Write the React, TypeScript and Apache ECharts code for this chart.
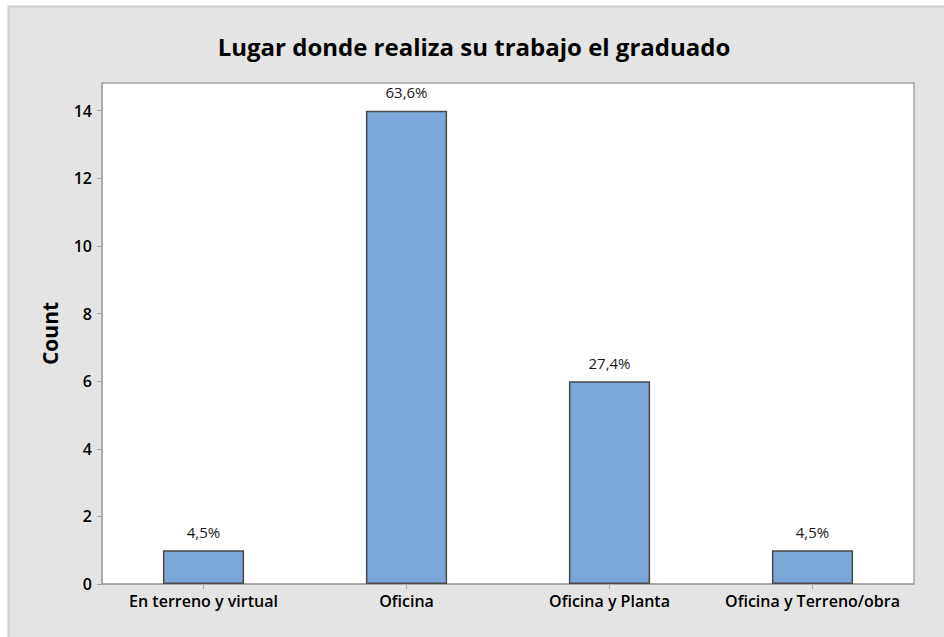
import React, { useEffect, useRef } from "react";
import * as echarts from "echarts";

const categories = ["En terreno y virtual", "Oficina", "Oficina y Planta", "Oficina y Terreno/obra"];
const counts = [1, 14, 6, 1];
const percentLabels = ["4,5%", "63,6%", "27,4%", "4,5%"];
const yTicks = [0, 2, 4, 6, 8, 10, 12, 14];

const FONT = "'Open Sans', 'Noto Sans', sans-serif";

export default function App() {
  const ref = useRef<HTMLDivElement>(null);
  useEffect(() => {
    document.body.style.margin = "0";
    const chart = echarts.init(ref.current!, null, { renderer: "svg" });
    chart.setOption({
      animation: false,
      backgroundColor: "#ffffff",
      graphic: [
        {
          type: "rect",
          z: -10,
          silent: true,
          shape: { x: 8.5, y: 6.5, width: 940, height: 640 },
          style: { fill: "#e4e4e4", stroke: "#cfcfcf", lineWidth: 2 },
        },
        {
          type: "rect",
          z: -5,
          silent: true,
          shape: { x: 102, y: 83, width: 812, height: 501 },
          style: { fill: "#ffffff", stroke: "#a6a6a6", lineWidth: 1.5 },
        },
      ],
      title: {
        text: "Lugar donde realiza su trabajo el graduado",
        left: 469,
        textAlign: "center",
        top: 29,
        textStyle: { fontFamily: FONT, fontSize: 24, fontWeight: "bold", color: "#000000" },
      },
      grid: { left: 102, top: 83, right: 30, bottom: 53, containLabel: false },
      xAxis: {
        type: "category",
        data: categories,
        axisLine: { show: true, lineStyle: { color: "#a6a6a6", width: 1.5 } },
        axisTick: { show: true, alignWithLabel: true, length: 5, lineStyle: { color: "#a6a6a6" } },
        axisLabel: { fontFamily: FONT, fontSize: 16, fontWeight: 600, color: "#000000", margin: 9, interval: 0 },
      },
      yAxis: {
        type: "value",
        min: 0,
        max: 14.82,
        interval: 2,
        name: "Count",
        nameLocation: "middle",
        nameGap: 42,
        nameRotate: 90,
        nameTextStyle: { fontFamily: FONT, fontSize: 21, fontWeight: "bold", color: "#000000" },
        axisLine: { show: true, lineStyle: { color: "#a6a6a6", width: 1.5 } },
        axisTick: { show: true, length: 5, lineStyle: { color: "#a6a6a6" }, customValues: yTicks },
        axisLabel: { fontFamily: FONT, fontSize: 16, fontWeight: 600, color: "#000000", margin: 10, customValues: yTicks },
        splitLine: { show: false },
      },
      series: [
        {
          type: "bar",
          data: counts,
          barWidth: "40%",
          itemStyle: { color: "#7ba7d9", borderColor: "#4a4a4a", borderWidth: 1.5 },
          label: {
            show: true,
            position: "top",
            distance: 11,
            formatter: (p: any) => percentLabels[p.dataIndex],
            fontFamily: FONT,
            fontSize: 15,
            color: "#1a1a1a",
          },
        },
      ],
    });
    return () => chart.dispose();
  }, []);
  return <div ref={ref} style={{ width: 944, height: 637 }} />;
}
